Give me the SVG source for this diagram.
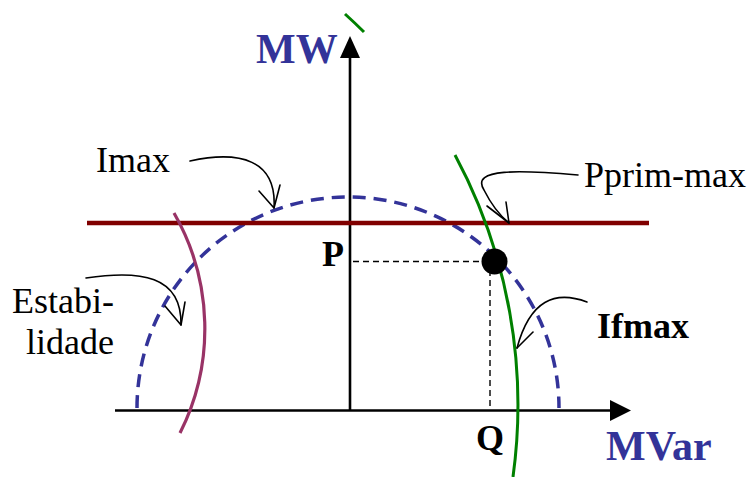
<svg xmlns="http://www.w3.org/2000/svg" width="750" height="477" viewBox="0 0 750 477">
<style>
.lbl{font-family:"Liberation Serif","Times New Roman",serif;font-size:36px;fill:#000}
.bold{font-weight:bold}
.axlbl{font-family:"Liberation Serif","Times New Roman",serif;font-weight:bold;font-size:42px;fill:#333399}
.ptr{fill:none;stroke:#000;stroke-width:1.6;stroke-linecap:round;stroke-linejoin:round}
.axis{stroke:#000;stroke-width:2.6;fill:none}
.guide{stroke:#000;stroke-width:1.4;stroke-dasharray:6,4;fill:none}
</style>
<rect width="750" height="477" fill="#fff"/>
<g id="connectors">
  <g id="axes">
    <line class="axis" x1="115" y1="410.5" x2="612" y2="410.5"/>
    <polygon points="631,410.5 610,400 610,421" fill="#000"/>
    <line class="axis" x1="350" y1="410.5" x2="350" y2="56"/>
    <polygon points="350,36 340,58 360,58" fill="#000"/>
  </g>
  <g id="guides">
    <line class="guide" x1="353" y1="261.5" x2="484" y2="261.5"/>
    <line class="guide" x1="490" y1="270" x2="490" y2="408"/>
  </g>
  <g id="curves">
    <path id="imax-arc" d="M137,408 A211,211 0 0,1 559,408" fill="none" stroke="#333399" stroke-width="3.5" stroke-dasharray="13,8"/>
    <line id="pprim-line" x1="87" y1="223" x2="649" y2="223" stroke="#800000" stroke-width="4.5"/>
    <path id="estab-arc" d="M174,213 A232,232 0 0,1 180,433" fill="none" stroke="#993366" stroke-width="3.2"/>
    <path id="ifmax-arc-top" d="M345,14 A528,528 0 0,1 364,32" fill="none" stroke="#008000" stroke-width="3"/>
    <path id="ifmax-arc" d="M455,155 A528,528 0 0,1 513,477" fill="none" stroke="#008000" stroke-width="3"/>
  </g>
  <g id="pointers">
    <path class="ptr" d="M190,161 C240,150 277,160 274,208"/>
    <path class="ptr" d="M259,191 L274,208 L280,185"/>
    <path class="ptr" d="M578,175 C520,170 470,168 484,190 C490,202 498,214 509,223"/>
    <path class="ptr" d="M487,206 L509,223 L506,202"/>
    <path class="ptr" d="M86,278 C140,270 182,275 181,325"/>
    <path class="ptr" d="M165,306 L181,325 L185,302"/>
    <path class="ptr" d="M587,302 C555,290 530,300 517,348"/>
    <path class="ptr" d="M533,332 L517,348"/>
  </g>
</g>
<g id="node-point">
  <circle cx="494.5" cy="261.5" r="13" fill="#000"/>
</g>
<g id="label-MW"><text class="axlbl" x="256" y="63">MW</text></g>
<g id="label-MVar"><text class="axlbl" x="606" y="460">MVar</text></g>
<g id="label-P"><text class="lbl bold" x="322" y="266">P</text></g>
<g id="label-Q"><text class="lbl bold" x="476" y="450">Q</text></g>
<g id="label-Imax"><text class="lbl" x="96" y="172">Imax</text></g>
<g id="label-Pprim"><text class="lbl" x="584" y="187">Pprim-max</text></g>
<g id="label-Ifmax"><text class="lbl bold" x="597" y="338">Ifmax</text></g>
<g id="label-Estab"><text class="lbl" text-anchor="end" x="114" y="313">Estabi-</text><text class="lbl" text-anchor="end" x="114" y="354">lidade</text></g>
</svg>
